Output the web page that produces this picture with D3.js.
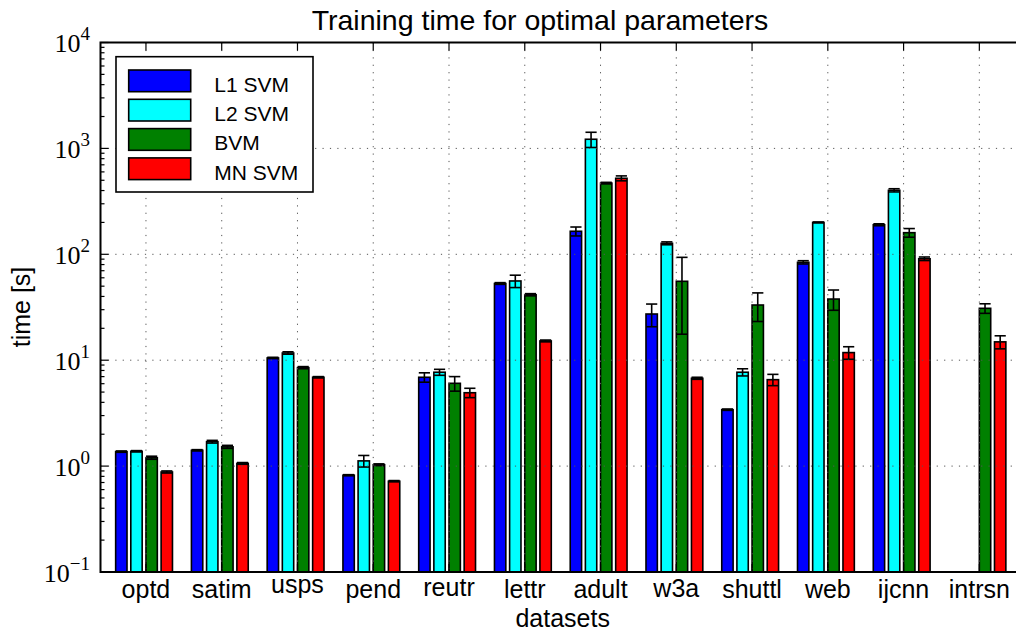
<!DOCTYPE html>
<html>
<head>
<meta charset="utf-8">
<script src="https://cdn.jsdelivr.net/npm/d3@7"></script>
<style>
  html, body { margin: 0; padding: 0; background: #fff; }
  svg { display: block; }
</style>
</head>
<body>
<svg id="chart" width="1016" height="632"></svg>
<script>
// Training time (seconds) per dataset for four solvers, with error bars.
const datasets = ["optd", "satim", "usps", "pend", "reutr", "lettr", "adult", "w3a", "shuttl", "web", "ijcnn", "intrsn"];
const seriesNames = ["L1 SVM", "L2 SVM", "BVM", "MN SVM"];
const seriesColors = ["#0000ff", "#00ffff", "#008000", "#ff0000"];

const l1svm = [1.37, 1.41, 10.5, 0.82, 6.9, 53, 165, 27.3, 3.41, 84, 190, null];
const l2svm = [1.38, 1.7, 11.7, 1.12, 7.7, 56, 1220, 127, 7.7, 200, 402, null];
const bvm   = [1.2, 1.52, 8.5, 1.03, 6.05, 41.5, 470, 55.6, 33.2, 37.8, 160, 30.9];
const mnsvm = [0.88, 1.06, 6.9, 0.72, 4.93, 15.2, 522, 6.75, 6.55, 11.8, 90.8, 14.9];

const l1svmErr = [0.02, 0.02, 0.15, 0.01, 0.7, 1, 16, 6.6, 0.05, 3, 4, 0];
const l2svmErr = [0.02, 0.05, 0.3, 0.14, 0.5, 7.5, 200, 4, 0.6, 2, 14, 0];
const bvmErr   = [0.04, 0.05, 0.2, 0.02, 0.95, 1, 8, 38, 10, 8.2, 15, 3.2];
const mnsvmErr = [0.02, 0.02, 0.1, 0.01, 0.5, 0.3, 28, 0.15, 0.8, 1.6, 3.5, 2.1];

const yTickExps = ["4", "3", "2", "1", "0", "\u22121"];
const yDomain = [0.1, 1e4];

const title = "Training time for optimal parameters";
const xLabel = "datasets";
const yLabel = "time [s]";

const values = [l1svm, l2svm, bvm, mnsvm];
const errors = [l1svmErr, l2svmErr, bvmErr, mnsvmErr];

// ---- layout ----
const plot = { left: 100.5, top: 42.5, bottom: 572 };
const sans = "'Liberation Sans', Arial, Helvetica, sans-serif";
const serif = "'Liberation Serif', 'Times New Roman', serif";
const barOffsets = [-0.4, -0.2, 0, 0.2];
const barWidth = 0.15;

const svg = d3.select("#chart");
svg.append("rect").attr("width", 1016).attr("height", 632).attr("fill", "#fff");

const x = d3.scaleLinear().domain([-0.6, 11.6]).range([plot.left, 1024.8]);
const y = d3.scaleLog().domain(yDomain).range([plot.bottom, plot.top]);

// ---- bars ----
const rows = [];
datasets.forEach((name, i) => {
  values.forEach((arr, s) => {
    if (arr[i] == null) return;
    rows.push({ i, s, v: arr[i], e: errors[s][i] });
  });
});

const barsG = svg.append("g");
barsG.selectAll("rect").data(rows).join("rect")
  .attr("x", d => x(d.i + barOffsets[d.s]))
  .attr("width", d => x(d.i + barOffsets[d.s] + barWidth) - x(d.i + barOffsets[d.s]))
  .attr("y", d => y(d.v))
  .attr("height", d => y(yDomain[0]) - y(d.v))
  .attr("fill", d => seriesColors[d.s])
  .attr("stroke", "#000")
  .attr("stroke-width", 1.6);

// ---- error bars ----
const errG = svg.append("g").attr("stroke", "#000").attr("stroke-width", 1.6);
const capHalf = 5.6;
rows.filter(d => d.e > 0).forEach(d => {
  const cx = x(d.i + barOffsets[d.s] + barWidth / 2);
  const y1 = y(d.v + d.e), y0 = y(Math.max(d.v - d.e, 1e-3));
  errG.append("line").attr("x1", cx).attr("x2", cx).attr("y1", y0).attr("y2", y1);
  errG.append("line").attr("x1", cx - capHalf).attr("x2", cx + capHalf).attr("y1", y1).attr("y2", y1);
  errG.append("line").attr("x1", cx - capHalf).attr("x2", cx + capHalf).attr("y1", y0).attr("y2", y0);
});

// ---- grid (dotted, drawn over the bars) ----
const gridG = svg.append("g")
  .attr("stroke", "#555").attr("stroke-width", 1).attr("stroke-dasharray", "1.2,6.2")
  .attr("fill", "none");
const majors = [1e-1, 1, 10, 100, 1000, 1e4];
majors.slice(1, -1).forEach(v => {
  gridG.append("line").attr("x1", plot.left).attr("x2", 1016)
    .attr("y1", y(v)).attr("y2", y(v));
});
datasets.forEach((d, i) => {
  gridG.append("line").attr("x1", x(i)).attr("x2", x(i))
    .attr("y1", plot.top).attr("y2", plot.bottom);
});

// ---- ticks ----
const tickG = svg.append("g").attr("stroke", "#000").attr("stroke-width", 1.2);
majors.forEach(v => {
  tickG.append("line").attr("x1", plot.left).attr("x2", plot.left + 8)
    .attr("y1", y(v)).attr("y2", y(v));
});
for (let e = -1; e < 4; e++) {
  for (let m = 2; m <= 9; m++) {
    const v = m * Math.pow(10, e);
    tickG.append("line").attr("x1", plot.left).attr("x2", plot.left + 4)
      .attr("y1", y(v)).attr("y2", y(v));
  }
}
datasets.forEach((d, i) => {
  tickG.append("line").attr("x1", x(i)).attr("x2", x(i)).attr("y1", plot.top).attr("y2", plot.top + 8);
  tickG.append("line").attr("x1", x(i)).attr("x2", x(i)).attr("y1", plot.bottom).attr("y2", plot.bottom - 8);
});

// ---- spines ----
const spineG = svg.append("g").attr("stroke", "#000").attr("stroke-width", 2).attr("fill", "none");
spineG.append("rect")
  .attr("x", plot.left).attr("y", plot.top)
  .attr("width", x.range()[1] - plot.left).attr("height", plot.bottom - plot.top);

// ---- y tick labels: 10^k ----
majors.forEach((v, k) => {
  const t = svg.append("text")
    .attr("x", 90).attr("y", y(v) + 9.8)
    .attr("text-anchor", "end")
    .attr("font-family", serif).attr("font-size", 26).attr("fill", "#000");
  t.append("tspan").text("10");
  t.append("tspan").attr("dy", -12).attr("font-size", 19).text(yTickExps[yTickExps.length - 1 - k]);
});

// ---- x tick labels, top-aligned on their ink like the plotting library does ----
const ctx = document.createElement("canvas").getContext("2d");
const tickFont = 25;
ctx.font = tickFont + "px " + sans;
const labelTop = 579;
datasets.forEach((name, i) => {
  const m = ctx.measureText(name);
  const asc = (m.actualBoundingBoxAscent != null) ? m.actualBoundingBoxAscent : 0.72 * tickFont;
  svg.append("text")
    .attr("x", x(i)).attr("y", labelTop + asc)
    .attr("text-anchor", "middle")
    .attr("font-family", sans).attr("font-size", tickFont).attr("fill", "#000")
    .text(name);
});

// ---- axis labels and title ----
svg.append("text")
  .attr("x", (plot.left + x.range()[1]) / 2).attr("y", 627)
  .attr("text-anchor", "middle")
  .attr("font-family", sans).attr("font-size", 25).attr("fill", "#000")
  .text(xLabel);

svg.append("text")
  .attr("transform", "translate(30,307) rotate(-90)")
  .attr("text-anchor", "middle")
  .attr("font-family", sans).attr("font-size", 25).attr("fill", "#000")
  .text(yLabel);

svg.append("text")
  .attr("x", 540).attr("y", 29.5)
  .attr("text-anchor", "middle")
  .attr("font-family", sans).attr("font-size", 28.5).attr("fill", "#000")
  .text(title);

// ---- legend ----
const leg = svg.append("g");
leg.append("rect")
  .attr("x", 116).attr("y", 56.7).attr("width", 197).attr("height", 135.3)
  .attr("fill", "#fff").attr("stroke", "#000").attr("stroke-width", 1.6);
seriesNames.forEach((name, s) => {
  const top = 70 + s * 29.3;
  leg.append("rect")
    .attr("x", 128.7).attr("y", top).attr("width", 62).attr("height", 21.7)
    .attr("fill", seriesColors[s]).attr("stroke", "#000").attr("stroke-width", 1.6);
  leg.append("text")
    .attr("x", 214.3).attr("y", top + 21.7)
    .attr("font-family", sans).attr("font-size", 21).attr("fill", "#000")
    .text(name);
});
</script>
</body>
</html>
